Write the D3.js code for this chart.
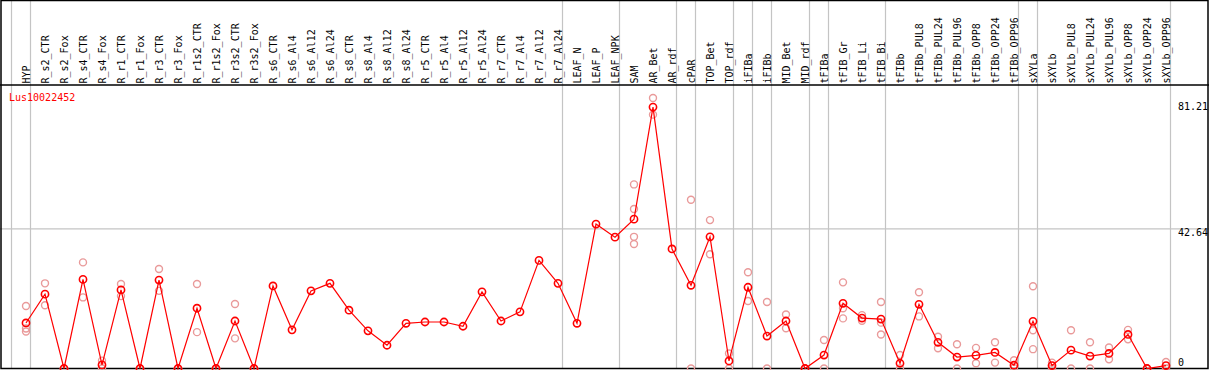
<!DOCTYPE html>
<html>
<head>
<meta charset="utf-8">
<script src="https://cdn.jsdelivr.net/npm/d3@7"></script>
<style>
  body { margin: 0; background: #fff; }
  svg { display: block; }
</style>
</head>
<body>
<svg id="chart"></svg>
<script>
const title = 'Lus10022452'

const categories = [
    'HYP', 'R_s2_CTR', 'R_s2_Fox', 'R_s4_CTR', 'R_s4_Fox', 'R_r1_CTR', 'R_r1_Fox',
    'R_r3_CTR', 'R_r3_Fox', 'R_r1s2_CTR', 'R_r1s2_Fox', 'R_r3s2_CTR', 'R_r3s2_Fox',
    'R_s6_CTR', 'R_s6_Al4', 'R_s6_Al12', 'R_s6_Al24', 'R_s8_CTR', 'R_s8_Al4', 'R_s8_Al12',
    'R_s8_Al24', 'R_r5_CTR', 'R_r5_Al4', 'R_r5_Al12', 'R_r5_Al24', 'R_r7_CTR', 'R_r7_Al4',
    'R_r7_Al12', 'R_r7_Al24', 'LEAF_N', 'LEAF_P', 'LEAF_NPK', 'SAM', 'AR_Bet', 'AR_rdf',
    'cPAR', 'TOP_Bet', 'TOP_rdf', 'iFIBa', 'iFIBb', 'MID_Bet', 'MID_rdf', 'tFIBa',
    'tFIB_Gr', 'tFIB_Li', 'tFIB_Bi', 'tFIBb', 'tFIBb_PUL8', 'tFIBb_PUL24', 'tFIBb_PUL96',
    'tFIBb_OPP8', 'tFIBb_OPP24', 'tFIBb_OPP96', 'sXYLa', 'sXYLb', 'sXYLb_PUL8',
    'sXYLb_PUL24', 'sXYLb_PUL96', 'sXYLb_OPP8', 'sXYLb_OPP24', 'sXYLb_OPP96'
]

// mean expression per sample
const means = [
    13.9, 22.7, 0, 27.2, 1.1, 24.0, 0, 27.0, 0, 18.4, 0, 14.5, 0,
    25.2, 11.8, 23.7, 26.0, 17.8, 11.5, 7.1, 13.8, 14.2, 14.2, 12.9, 23.4,
    14.5, 17.3, 33.0, 26.0, 13.8, 44.1, 40.1, 45.6, 79.8, 36.5,
    25.4, 40.2, 2.3, 24.8, 9.9, 14.5, 0, 4.1,
    19.9, 15.4, 15.1, 1.6, 19.6, 8.0, 3.5,
    4.0, 4.9, 1.0, 14.4, 0.9, 5.6,
    3.8, 4.6, 10.4, 0, 0.9
]

// individual replicates (pale circles)
const replicates = [
    [19.1, 12.2, 11.3], [26.0, 19.3], [0, 0], [32.4, 21.7], [2.4, 0], [25.8, 22.1], [0, 0],
    [30.4, 23.7], [0, 0], [25.8, 11.1], [0, 0], [19.7, 9.2], [0, 0],
    [], [], [], [], [], [], [],
    [], [], [], [], [], [], [],
    [], [], [], [], [], [56.2, 48.7, 40.2, 38.0], [82.6, 77.5], [],
    [51.5, 0], [45.3, 34.9], [4.6, 0], [29.4, 20.6], [20.3, 0], [16.5, 12.3], [0, 0], [8.7, 0],
    [26.3, 18.4, 15.3], [16.3, 14.6], [20.3, 14.0, 10.4], [4.1, 0], [23.3, 15.9], [9.7, 6.2], [7.4, 0],
    [6.3, 1.6], [8.0, 1.8], [2.5, 0.1], [25.1, 11.7, 5.9], [1.8, 0], [11.7, 0],
    [8.0, 0], [6.4, 2.8], [11.8, 8.9], [0, 0], [2.0, 0]
]

const yTicks = [0, 42.64, 81.21]
const gridTicks = [42.64]

// sample groups: a separator is drawn after each of these
const groupEnds = ['HYP', 'R_r7_Al24', 'LEAF_NPK', 'AR_rdf', 'cPAR', 'TOP_rdf', 'iFIBa',
    'iFIBb', 'MID_rdf', 'tFIBa', 'tFIB_Bi', 'tFIBb_OPP96', 'sXYLa', 'sXYLb_OPP96']

// setting up container
    const width = 1209
    const height = 370
    const headerBottom = 85
    const plotBottom = 368.5
    const font = '"DejaVu Sans Mono", "Liberation Mono", monospace'
    const red = '#ff0000'
    const pink = '#e99a9a'
    const grey = '#c4c4c4'

    const svg = d3.select('#chart')
        .attr('width', width)
        .attr('height', height)
        .attr('viewBox', `0 0 ${width} ${height}`)

    svg.append('rect')
        .attr('width', width)
        .attr('height', height)
        .attr('fill', '#fff')

// set up scales
    const xScale = d3.scalePoint()
        .domain(categories)
        .range([26, 1166])
    const step = xScale.step()
    const yScale = d3.scaleLinear()
        .domain([0, 81.21])
        .range([plotBottom, 102.5])

// grid lines
    const sepX = [xScale(categories[0]) - step + 4.5]
        .concat(groupEnds.map(c => xScale(c) + 4.5))
    svg.append('g')
        .selectAll('line')
        .data(sepX)
        .enter()
        .append('line')
            .attr('x1', d => d)
            .attr('x2', d => d)
            .attr('y1', 0)
            .attr('y2', plotBottom)
            .attr('stroke', grey)
            .attr('stroke-width', 1.2)

    svg.append('g')
        .selectAll('line')
        .data(gridTicks)
        .enter()
        .append('line')
            .attr('x1', 0)
            .attr('x2', width)
            .attr('y1', d => yScale(d))
            .attr('y2', d => yScale(d))
            .attr('stroke', grey)
            .attr('stroke-width', 1.2)

// header labels
    svg.append('g')
        .selectAll('text')
        .data(categories)
        .enter()
        .append('text')
            .attr('transform', d => `translate(${xScale(d) + 3.5}, 83.5) rotate(-90)`)
            .style('font-family', font)
            .style('font-size', '10px')
            .attr('fill', '#000')
            .text(d => d)

// borders
    svg.append('line')
        .attr('x1', 0).attr('x2', width)
        .attr('y1', headerBottom).attr('y2', headerBottom)
        .attr('stroke', '#000').attr('stroke-width', 1.5)
    svg.append('rect')
        .attr('x', 1)
        .attr('y', 0.5)
        .attr('width', 1207)
        .attr('height', plotBottom - 0.5)
        .attr('fill', 'none')
        .attr('stroke', '#000')
        .attr('stroke-width', 1.5)

// y tick labels
    svg.append('g')
        .selectAll('text')
        .data(yTicks)
        .enter()
        .append('text')
            .attr('x', 1178)
            .attr('y', d => d === 0 ? yScale(d) - 2.5 : yScale(d) + 7.5)
            .style('font-family', font)
            .style('font-size', '10px')
            .attr('fill', '#000')
            .text(d => d)

    svg.append('text')
        .attr('x', 9)
        .attr('y', 101)
        .style('font-family', font)
        .style('font-size', '10px')
        .attr('fill', red)
        .text(title)

// replicate points
    const repData = replicates.flatMap((vals, i) => vals.map(v => ({cat: categories[i], value: v})))
    svg.append('g')
        .selectAll('circle')
        .data(repData)
        .enter()
        .append('circle')
            .attr('cx', d => xScale(d.cat))
            .attr('cy', d => yScale(d.value))
            .attr('r', 3.5)
            .attr('fill', 'none')
            .attr('stroke', pink)
            .attr('stroke-width', 1.4)

// mean line and points
    const meanData = categories.map((c, i) => ({cat: c, value: means[i]}))
    const line = d3.line()
        .x(d => xScale(d.cat))
        .y(d => yScale(d.value))
    svg.append('path')
        .datum(meanData)
        .attr('d', line)
        .attr('fill', 'none')
        .attr('stroke', red)
        .attr('stroke-width', 1.2)

    svg.append('g')
        .selectAll('circle')
        .data(meanData)
        .enter()
        .append('circle')
            .attr('cx', d => xScale(d.cat))
            .attr('cy', d => yScale(d.value))
            .attr('r', 3.6)
            .attr('fill', 'none')
            .attr('stroke', red)
            .attr('stroke-width', 1.6)
</script>
</body>
</html>
